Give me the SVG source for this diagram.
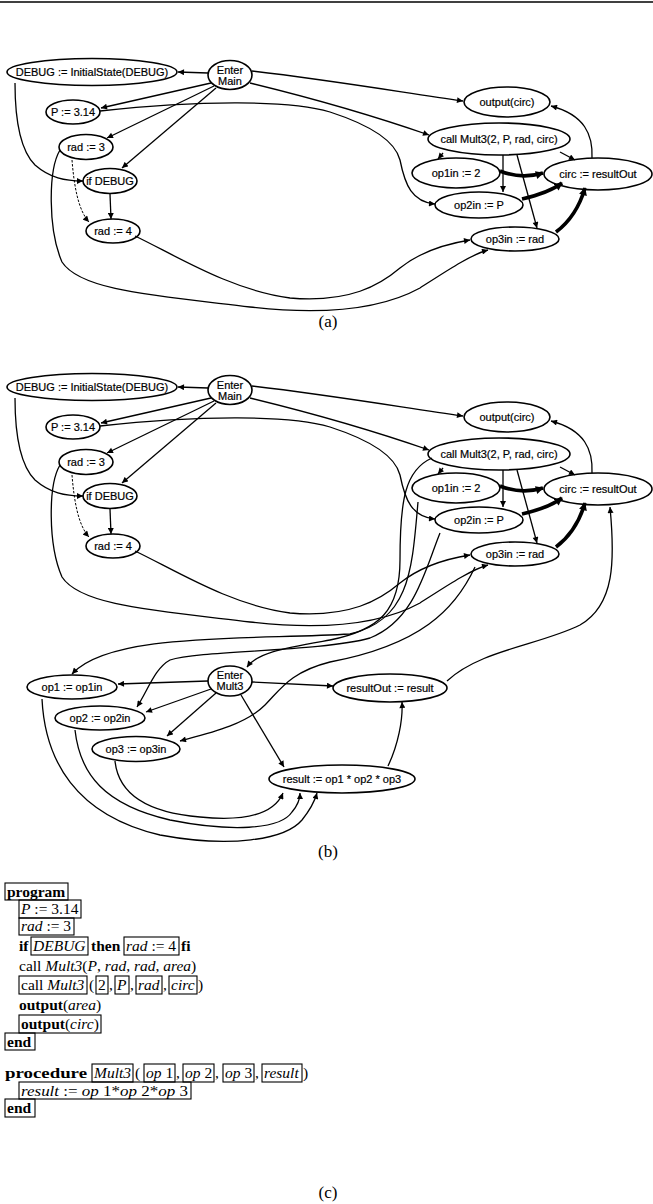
<svg xmlns="http://www.w3.org/2000/svg" width="653" height="1204" viewBox="0 0 653 1204">
<style>
.n{fill:none;stroke:#000;stroke-width:1.6}
.t{font-family:"Liberation Sans",Arial,sans-serif;font-size:11px;text-anchor:middle;fill:#000;stroke:#000;stroke-width:0.2}
.e{fill:none;stroke:#000;stroke-width:1.3;marker-end:url(#ah)}
.d{stroke-dasharray:2.5,1.5;stroke-width:1}
.k{stroke-width:3.6;marker-end:url(#ahT)}
.c{font-family:"Liberation Serif","Times New Roman",serif;font-size:15.5px;fill:#000}
.b{font-weight:bold}
.i{font-style:italic}
.box{fill:none;stroke:#000;stroke-width:1.1}
.cap{font-family:"Liberation Serif","Times New Roman",serif;font-size:17px;text-anchor:middle}
</style>
<defs>
<marker id="ah" viewBox="0 0 10 10" refX="10" refY="5" markerWidth="7" markerHeight="6" markerUnits="userSpaceOnUse" orient="auto"><path d="M0,0 L10,5 L0,10 z"/></marker>
<marker id="ahT" viewBox="0 0 10 10" refX="9" refY="5" markerWidth="9" markerHeight="8" markerUnits="userSpaceOnUse" orient="auto"><path d="M0,0 L10,5 L0,10 z"/></marker>
</defs>
<rect width="653" height="1204" fill="#fff"/>
<line x1="0" y1="2" x2="653" y2="2" stroke="#000" stroke-width="1.5"/>

<!-- ===== Panel (a) ===== -->
<g id="a-edges">
<path class="e" d="M208,73 L178,72"/>
<path class="e" d="M211,83 L101,108"/>
<path class="e" d="M214,86 L107,138"/>
<path class="e" d="M216,88 L122,168"/>
<path class="e" d="M252,71 C330,80 400,92 463,101"/>
<path class="e" d="M250,83 C320,100 380,118 429,135"/>
<path class="e" d="M100,111 C200,100 290,100 330,112 C370,125 395,140 400,160 C405,185 412,202 435,204"/>
<path class="e" d="M15,83 C15,120 20,150 35,165 C50,178 65,181 83,181"/>
<path class="e" d="M110,194 L111,219"/>
<path class="e d" d="M72,160 C74,185 78,210 89,222"/>
<path class="e" d="M443,153 L438,159"/>
<path class="e" d="M503,155 L503,192"/>
<path class="e" d="M517,155 L537,228"/>
<path class="e" d="M560,152 L575,160"/>
<path class="e" d="M592,158 C593,135 585,115 551,106"/>
<path class="e k" d="M500,171 C515,177 530,177 543,173"/>
<path class="e k" d="M522,199 C535,196 550,192 562,183"/>
<path class="e k" d="M556,232 C572,220 580,205 585,188"/>
<path class="e" d="M135,236 C175,255 230,290 290,298 C350,303 380,285 400,268 C420,252 445,244 470,240"/>
<path class="e" d="M60,150 C48,170 48,230 62,262 C80,290 150,295 250,307 C320,315 380,310 420,288 C445,272 470,255 488,250"/>
</g>
<g id="a-dbg"><ellipse class="n" cx="92" cy="72" rx="85" ry="13.5"/><text class="t" x="92" y="76">DEBUG := InitialState(DEBUG)</text></g>
<g id="a-enterMain"><ellipse class="n" cx="230" cy="75" rx="22" ry="14.5"/><text class="t" x="230" y="74">Enter</text><text class="t" x="230" y="85">Main</text></g>
<g id="a-p"><ellipse class="n" cx="73" cy="112" rx="27" ry="12"/><text class="t" x="73" y="116">P := 3.14</text></g>
<g id="a-rad3"><ellipse class="n" cx="86" cy="147" rx="27" ry="12.5"/><text class="t" x="86" y="151">rad := 3</text></g>
<g id="a-if"><ellipse class="n" cx="110" cy="181" rx="27" ry="12.5"/><text class="t" x="110" y="185">if DEBUG</text></g>
<g id="a-rad4"><ellipse class="n" cx="113" cy="231" rx="27" ry="12"/><text class="t" x="113" y="235">rad := 4</text></g>
<g id="a-out"><ellipse class="n" cx="507" cy="102" rx="43" ry="15"/><text class="t" x="507" y="106">output(circ)</text></g>
<g id="a-call"><ellipse class="n" cx="499" cy="139" rx="71" ry="16"/><text class="t" x="499" y="143">call Mult3(2, P, rad, circ)</text></g>
<g id="a-op1in"><ellipse class="n" cx="456" cy="173" rx="44" ry="15"/><text class="t" x="456" y="177">op1in := 2</text></g>
<g id="a-circ"><ellipse class="n" cx="598" cy="174" rx="54" ry="16"/><text class="t" x="598" y="178">circ := resultOut</text></g>
<g id="a-op2in"><ellipse class="n" cx="479" cy="205" rx="44" ry="13"/><text class="t" x="479" y="209">op2in := P</text></g>
<g id="a-op3in"><ellipse class="n" cx="515" cy="239" rx="44" ry="12"/><text class="t" x="515" y="243">op3in := rad</text></g>
<text class="cap" x="328" y="327">(a)</text>

<!-- ===== Panel (b) ===== -->
<g id="b-edges">
<g transform="translate(0,315)">
<path class="e" d="M208,73 L178,72"/>
<path class="e" d="M211,83 L101,108"/>
<path class="e" d="M214,86 L107,138"/>
<path class="e" d="M216,88 L122,168"/>
<path class="e" d="M252,71 C330,80 400,92 463,101"/>
<path class="e" d="M250,83 C320,100 380,118 429,135"/>
<path class="e" d="M100,111 C200,100 290,100 330,112 C370,125 395,140 400,160 C405,185 412,202 435,204"/>
<path class="e" d="M15,83 C15,120 20,150 35,165 C50,178 65,181 83,181"/>
<path class="e" d="M110,194 L111,219"/>
<path class="e d" d="M72,160 C74,185 78,210 89,222"/>
<path class="e" d="M443,153 L438,159"/>
<path class="e" d="M503,155 L503,192"/>
<path class="e" d="M517,155 L537,228"/>
<path class="e" d="M560,152 L575,160"/>
<path class="e" d="M592,158 C593,135 585,115 551,106"/>
<path class="e k" d="M500,171 C515,177 530,177 543,173"/>
<path class="e k" d="M522,199 C535,196 550,192 562,183"/>
<path class="e k" d="M556,232 C572,220 580,205 585,188"/>
<path class="e" d="M135,236 C175,255 230,290 290,298 C350,303 380,285 400,268 C420,252 445,244 470,240"/>
<path class="e" d="M60,150 C48,170 48,230 62,262 C80,290 150,295 250,307 C320,315 380,310 420,288 C445,272 470,255 488,250"/>
</g>
<path class="e" d="M432,458 C405,470 400,500 400,560 C400,610 380,630 330,640 C285,648 258,652 247,667"/>
<path class="e" d="M418,502 C412,570 410,620 350,634 C250,640 110,632 72,674"/>
<path class="e" d="M440,533 C425,570 415,620 370,638 C320,652 200,650 170,660 C155,668 148,690 137,707"/>
<path class="e" d="M475,567 C455,610 420,645 330,662 C290,672 280,690 265,705 C245,725 210,733 180,741"/>
<path class="e" d="M447,681 C480,650 540,645 580,625 C615,605 615,560 610,507"/>
<path class="e" d="M208,681 L118,684"/>
<path class="e" d="M211,689 L146,712"/>
<path class="e" d="M216,693 L167,736"/>
<path class="e" d="M252,682 L333,686"/>
<path class="e" d="M241,695 L284,767"/>
<path class="e" d="M388,766 C398,745 403,720 402,702"/>
<path class="e" d="M42,699 C45,760 75,815 160,835 C230,848 285,840 302,820 C310,810 315,800 317,793"/>
<path class="e" d="M75,730 C80,775 105,805 170,820 C230,832 280,830 292,812 C298,805 300,797 300,793"/>
<path class="e" d="M115,761 C118,790 140,812 200,817 C250,822 275,812 283,793"/>
</g>
<g transform="translate(0,315)">
<g id="b-dbg"><ellipse class="n" cx="92" cy="72" rx="85" ry="13.5"/><text class="t" x="92" y="76">DEBUG := InitialState(DEBUG)</text></g>
<g id="b-enterMain"><ellipse class="n" cx="230" cy="75" rx="22" ry="14.5"/><text class="t" x="230" y="74">Enter</text><text class="t" x="230" y="85">Main</text></g>
<g id="b-p"><ellipse class="n" cx="73" cy="112" rx="27" ry="12"/><text class="t" x="73" y="116">P := 3.14</text></g>
<g id="b-rad3"><ellipse class="n" cx="86" cy="147" rx="27" ry="12.5"/><text class="t" x="86" y="151">rad := 3</text></g>
<g id="b-if"><ellipse class="n" cx="110" cy="181" rx="27" ry="12.5"/><text class="t" x="110" y="185">if DEBUG</text></g>
<g id="b-rad4"><ellipse class="n" cx="113" cy="231" rx="27" ry="12"/><text class="t" x="113" y="235">rad := 4</text></g>
<g id="b-out"><ellipse class="n" cx="507" cy="102" rx="43" ry="15"/><text class="t" x="507" y="106">output(circ)</text></g>
<g id="b-call"><ellipse class="n" cx="499" cy="139" rx="71" ry="16"/><text class="t" x="499" y="143">call Mult3(2, P, rad, circ)</text></g>
<g id="b-op1in"><ellipse class="n" cx="456" cy="173" rx="44" ry="15"/><text class="t" x="456" y="177">op1in := 2</text></g>
<g id="b-circ"><ellipse class="n" cx="598" cy="174" rx="54" ry="16"/><text class="t" x="598" y="178">circ := resultOut</text></g>
<g id="b-op2in"><ellipse class="n" cx="479" cy="205" rx="44" ry="13"/><text class="t" x="479" y="209">op2in := P</text></g>
<g id="b-op3in"><ellipse class="n" cx="515" cy="239" rx="44" ry="12"/><text class="t" x="515" y="243">op3in := rad</text></g>
</g>
<g id="b-op1"><ellipse class="n" cx="72" cy="687" rx="45" ry="12"/><text class="t" x="72" y="691">op1 := op1in</text></g>
<g id="b-enterMult3"><ellipse class="n" cx="230" cy="681" rx="22" ry="15"/><text class="t" x="230" y="679">Enter</text><text class="t" x="230" y="690">Mult3</text></g>
<g id="b-op2"><ellipse class="n" cx="100" cy="718" rx="45" ry="12"/><text class="t" x="100" y="722">op2 := op2in</text></g>
<g id="b-op3"><ellipse class="n" cx="136" cy="749" rx="44" ry="12.5"/><text class="t" x="136" y="753">op3 := op3in</text></g>
<g id="b-resultOut"><ellipse class="n" cx="390" cy="688" rx="57" ry="14"/><text class="t" x="390" y="692">resultOut := result</text></g>
<g id="b-result"><ellipse class="n" cx="342" cy="779" rx="73" ry="14"/><text class="t" x="342" y="783">result := op1 * op2 * op3</text></g>
<text class="cap" x="328" y="857">(b)</text>

<!-- ===== Panel (c) ===== -->
<g id="code">
<rect class="box" x="5" y="883" width="63" height="17"/>
<text class="c b" x="7" y="897">program</text>
<rect class="box" x="19" y="900" width="62" height="18"/>
<text class="c" x="21" y="914"><tspan class="i">P</tspan> := 3.14</text>
<rect class="box" x="19" y="918" width="55" height="17"/>
<text class="c" x="21" y="931"><tspan class="i">rad</tspan> := 3</text>
<text class="c b" x="19" y="951">if</text>
<rect class="box" x="31" y="937" width="57" height="18"/>
<text class="c i" x="33" y="951">DEBUG</text>
<text class="c b" x="91" y="951">then</text>
<rect class="box" x="124" y="937" width="55" height="18"/>
<text class="c" x="126" y="951"><tspan class="i">rad</tspan> := 4</text>
<text class="c b" x="181" y="951">fi</text>
<text class="c" x="19" y="971">call <tspan class="i">Mult3</tspan>(<tspan class="i">P</tspan>, <tspan class="i">rad</tspan>, <tspan class="i">rad</tspan>, <tspan class="i">area</tspan>)</text>
<rect class="box" x="19" y="976" width="68" height="18"/>
<text class="c" x="21" y="990">call <tspan class="i">Mult3</tspan></text>
<text class="c" x="89" y="990">(</text>
<rect class="box" x="96" y="976" width="12" height="18"/>
<text class="c" x="98" y="990">2</text>
<text class="c" x="109" y="990">,</text>
<rect class="box" x="115" y="976" width="14" height="18"/>
<text class="c i" x="117" y="990">P</text>
<text class="c" x="130" y="990">,</text>
<rect class="box" x="136" y="976" width="26" height="18"/>
<text class="c i" x="138" y="990">rad</text>
<text class="c" x="163" y="990">,</text>
<rect class="box" x="169" y="976" width="28" height="18"/>
<text class="c i" x="171" y="990">circ</text>
<text class="c" x="198" y="990">)</text>
<text class="c" x="19" y="1010"><tspan class="b">output</tspan>(<tspan class="i">area</tspan>)</text>
<rect class="box" x="19" y="1015" width="82" height="18"/>
<text class="c" x="21" y="1029"><tspan class="b">output</tspan>(<tspan class="i">circ</tspan>)</text>
<rect class="box" x="5" y="1033" width="30" height="17"/>
<text class="c b" x="7" y="1047">end</text>
<text class="c b" x="5" y="1078" textLength="82" lengthAdjust="spacingAndGlyphs">procedure</text>
<rect class="box" x="92" y="1064" width="41" height="18"/>
<text class="c i" x="94" y="1078">Mult3</text>
<text class="c" x="135" y="1078">(</text>
<rect class="box" x="144" y="1064" width="31" height="18"/>
<text class="c" x="146" y="1078"><tspan class="i">op</tspan> 1</text>
<text class="c" x="176" y="1078">,</text>
<rect class="box" x="183" y="1064" width="31" height="18"/>
<text class="c" x="185" y="1078"><tspan class="i">op</tspan> 2</text>
<text class="c" x="215" y="1078">,</text>
<rect class="box" x="223" y="1064" width="31" height="18"/>
<text class="c" x="225" y="1078"><tspan class="i">op</tspan> 3</text>
<text class="c" x="255" y="1078">,</text>
<rect class="box" x="262" y="1064" width="40" height="18"/>
<text class="c i" x="264" y="1078">result</text>
<text class="c" x="303" y="1078">)</text>
<rect class="box" x="19" y="1082" width="172" height="17"/>
<text class="c" x="21" y="1096" textLength="167" lengthAdjust="spacingAndGlyphs"><tspan class="i">result</tspan> := <tspan class="i">op</tspan> 1*<tspan class="i">op</tspan> 2*<tspan class="i">op</tspan> 3</text>
<rect class="box" x="5" y="1099" width="30" height="18"/>
<text class="c b" x="7" y="1113">end</text>
</g>
<text class="cap" x="328" y="1198">(c)</text>
</svg>
